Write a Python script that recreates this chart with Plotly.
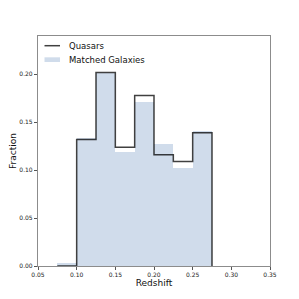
import plotly.graph_objects as go

bin_edges = [0.075, 0.100, 0.125, 0.150, 0.175, 0.200, 0.225, 0.250, 0.275]
quasars = [0.0, 0.132, 0.202, 0.124, 0.178, 0.116, 0.109, 0.139]
galaxies = [0.003, 0.134, 0.201, 0.119, 0.171, 0.127, 0.102, 0.141]
x_ticks = [0.05, 0.10, 0.15, 0.20, 0.25, 0.30, 0.35]
y_ticks = [0.00, 0.05, 0.10, 0.15, 0.20]
legend_labels = ["Quasars", "Matched Galaxies"]

GAL_COLOR = "rgba(176,196,222,0.6)"
QSO_COLOR = "rgba(0,0,0,0.75)"

centers = [(bin_edges[i] + bin_edges[i + 1]) / 2 for i in range(len(galaxies))]
width = bin_edges[1] - bin_edges[0]

fig = go.Figure()
fig.add_trace(go.Bar(
    x=centers, y=galaxies, width=[width] * len(galaxies),
    marker=dict(color=GAL_COLOR, line=dict(width=0)),
    name=legend_labels[1], showlegend=False,
))
xs = bin_edges[:-1] + [bin_edges[-1], bin_edges[-1]]
ys = quasars + [quasars[-1], 0]
fig.add_trace(go.Scatter(
    x=xs, y=ys, mode="lines", line=dict(shape="hv", color=QSO_COLOR, width=1.5),
    name=legend_labels[0], showlegend=False,
))

# plot area in pixels
L, R, T, B = 38, 270, 36, 266
def px(x): return (x - L) / (R - L)
def py(y): return (B - y) / (B - T)

shapes = [
    dict(type="line", xref="paper", yref="paper", x0=px(44.5), x1=px(60), y0=py(45.7), y1=py(45.7),
         line=dict(color=QSO_COLOR, width=1.5)),
    dict(type="rect", xref="paper", yref="paper", x0=px(44.5), x1=px(60), y0=py(62), y1=py(57.3),
         fillcolor=GAL_COLOR, line=dict(width=0)),
]
annotations = [
    dict(xref="paper", yref="paper", x=px(67), y=py(45.7), text=legend_labels[0], showarrow=False,
         xanchor="left", yanchor="middle", font=dict(family="DejaVu Sans", size=8.5, color="#111")),
    dict(xref="paper", yref="paper", x=px(67), y=py(59.7), text=legend_labels[1], showarrow=False,
         xanchor="left", yanchor="middle", font=dict(family="DejaVu Sans", size=8.5, color="#111")),
]

axis_common = dict(
    showline=True, mirror=True, linecolor="#8c8c8c", linewidth=1.2,
    ticks="outside", ticklen=3, tickwidth=1, tickcolor="#555",
    showgrid=False, zeroline=False, automargin=False,
    tickfont=dict(family="DejaVu Sans", size=6, color="#222"),
)
fig.update_layout(
    width=299, height=299,
    margin=dict(l=L, r=299 - R, t=T, b=299 - B),
    plot_bgcolor="white", paper_bgcolor="white",
    bargap=0,
    showlegend=False,
    shapes=shapes, annotations=annotations,
    xaxis=dict(range=[0.05, 0.35], tickvals=x_ticks, ticktext=[f"{v:.2f}" for v in x_ticks],
               title=dict(text="Redshift", font=dict(family="DejaVu Sans", size=9, color="#111"), standoff=0),
               **axis_common),
    yaxis=dict(range=[0, 0.24], tickvals=y_ticks, ticktext=[f"{v:.2f}" for v in y_ticks],
               title=dict(text="Fraction", font=dict(family="DejaVu Sans", size=9, color="#111"), standoff=1),
               **axis_common),
)
fig.write_html("out.html", config={"displayModeBar": False},
               post_script="document.body.style.margin='0';document.body.style.overflow='hidden';")
